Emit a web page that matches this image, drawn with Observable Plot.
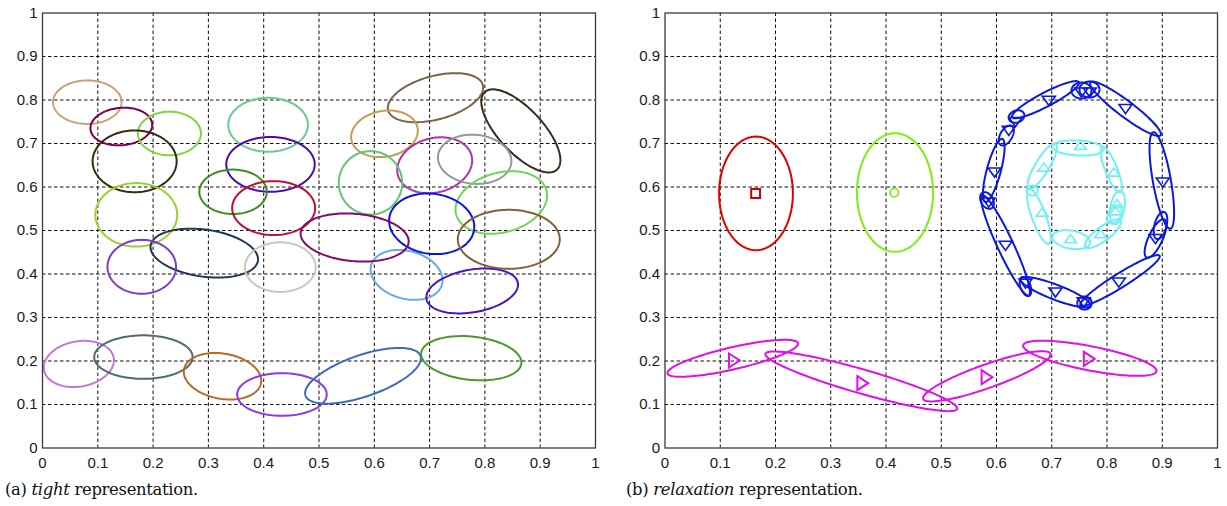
<!DOCTYPE html>
<html><head><meta charset="utf-8">
<script src="https://cdn.jsdelivr.net/npm/d3@7"></script>
<script src="https://cdn.jsdelivr.net/npm/@observablehq/plot@0.6"></script>
<style>
body{margin:0;background:#fff;}
#wrap{position:relative;width:1227px;height:506px;overflow:hidden;}
.panel{position:absolute;top:0;}
.cap{position:absolute;top:480px;font-family:"DejaVu Serif",serif;font-size:16.4px;color:#111;white-space:nowrap;letter-spacing:-0.3px;}
</style></head><body>
<div id="wrap">
<div id="a" class="panel" style="left:0"></div>
<div id="b" class="panel" style="left:622px"></div>
<div class="cap" style="left:5px">(a) <i>tight</i> representation.</div>
<div class="cap" style="left:626px">(b) <i>relaxation</i> representation.</div>
</div>
<script>
// ---- data ----
const tickValues = [0, 0.1, 0.2, 0.3, 0.4, 0.5, 0.6, 0.7, 0.8, 0.9, 1];
const gridValues = [0.1, 0.2, 0.3, 0.4, 0.5, 0.6, 0.7, 0.8, 0.9];

// tight ellipses: [cx, cy, semi-axis 1 (x units), semi-axis 2 (y units), tilt deg]
const tightEllipses = [
  [0.081, 0.795, 0.062, 0.050, 0],
  [0.1425, 0.739, 0.056, 0.043, 5],
  [0.2295, 0.723, 0.057, 0.050, 0],
  [0.1666, 0.659, 0.076, 0.071, 0],
  [0.1696, 0.536, 0.074, 0.073, 0],
  [0.408, 0.743, 0.072, 0.062, 0],
  [0.4123, 0.652, 0.080, 0.063, 0],
  [0.3446, 0.589, 0.061, 0.051, 0],
  [0.418, 0.5515, 0.075, 0.062, 0],
  [0.2925, 0.448, 0.098, 0.054, -8],
  [0.1795, 0.4165, 0.062, 0.062, 0],
  [0.430, 0.4158, 0.064, 0.057, 0],
  [0.0657, 0.1933, 0.064, 0.052, 10],
  [0.1825, 0.209, 0.089, 0.050, 0],
  [0.3256, 0.165, 0.0708, 0.052, -10],
  [0.433, 0.123, 0.081, 0.049, 0],
  [0.5796, 0.166, 0.110, 0.0476, 19],
  [0.7754, 0.2064, 0.091, 0.0497, -6],
  [0.6584, 0.398, 0.0664, 0.055, -15],
  [0.777, 0.361, 0.0839, 0.049, 10],
  [0.7107, 0.8053, 0.0886, 0.050, 15],
  [0.865, 0.729, 0.0958, 0.0506, -47],
  [0.6184, 0.7223, 0.0608, 0.0527, 10],
  [0.7092, 0.650, 0.0689, 0.0623, 15],
  [0.7815, 0.6637, 0.0666, 0.0563, -5],
  [0.5931, 0.6096, 0.0573, 0.0729, 0],
  [0.8297, 0.5644, 0.0845, 0.0687, 15],
  [0.7038, 0.5154, 0.0774, 0.069, -8],
  [0.8432, 0.4798, 0.0922, 0.0678, 0],
  [0.5645, 0.4839, 0.098, 0.0545, -5]
];
const tightColors = [
  "#c8a27a", "#800048", "#7fd63a", "#3b2a0e", "#9ad22a", "#66cc90", "#4a0ab4", "#3e8e26",
  "#c0102e", "#1f3a52", "#7a3ec8", "#c4ccb8", "#c078e0", "#4e6a72", "#b86a1e", "#8a3aea",
  "#3c6cc0", "#4a9a2a", "#6aa8e6", "#4a12c0", "#7a6448", "#3a2c1c", "#c49c54", "#b034a8",
  "#8a9c98", "#5cc870", "#72d458", "#0a12ee", "#806234", "#82086e"
];

// relaxation groups
const redEllipse = [[0.1647, 0.5853, 0.0668, 0.1306, 0]];
const redMarker = [[0.164, 0.585]];
const greenEllipse = [[0.4163, 0.5872, 0.0689, 0.1363, 0]];
const greenMarker = [[0.415, 0.587]];
const blueEllipses = [
  [0.6887, 0.8007, 0.0682, 0.0161, 27.7],
  [0.7538, 0.8218, 0.0181, 0.0184, 0],
  [0.7683, 0.8241, 0.0181, 0.0184, 0],
  [0.8335, 0.7798, 0.0796, 0.0184, -37],
  [0.8992, 0.615, 0.0887, 0.0207, -80],
  [0.8878, 0.4816, 0.038, 0.0161, 65],
  [0.8968, 0.5115, 0.0253, 0.0138, 75],
  [0.8235, 0.385, 0.0845, 0.0161, 32],
  [0.7593, 0.3333, 0.013, 0.015, 0],
  [0.7068, 0.3582, 0.0679, 0.0172, -21],
  [0.6163, 0.4655, 0.0999, 0.0184, -65],
  [0.6525, 0.3713, 0.0181, 0.0115, -70],
  [0.5828, 0.569, 0.0163, 0.0138, -60],
  [0.5951, 0.638, 0.0592, 0.0161, 75],
  [0.6177, 0.7184, 0.0199, 0.0138, 60],
  [0.6362, 0.762, 0.0145, 0.0138, 20]
];
const blueMarkers = [
  [0.6947, 0.7989], [0.7538, 0.818], [0.7689, 0.818], [0.8335, 0.7798], [0.901, 0.611],
  [0.8878, 0.481], [0.8214, 0.3811], [0.758, 0.3353], [0.7068, 0.3582], [0.6525, 0.3785],
  [0.6163, 0.4655], [0.586, 0.565], [0.5964, 0.634], [0.6223, 0.7299], [0.6344, 0.75]
];
const cyanEllipses = [
  [0.7475, 0.6897, 0.0467, 0.0172, -3],
  [0.8078, 0.6398, 0.044, 0.0138, -68],
  [0.819, 0.5529, 0.0308, 0.0161, 80],
  [0.8136, 0.5368, 0.0181, 0.0138, 60],
  [0.7928, 0.4924, 0.0398, 0.0161, 37],
  [0.7354, 0.4789, 0.0344, 0.0207, -10],
  [0.6766, 0.5326, 0.053, 0.0161, -70],
  [0.6827, 0.6476, 0.0474, 0.0161, 59],
  [0.6646, 0.592, 0.010, 0.0115, 0]
];
const cyanMarkers = [
  [0.752, 0.6954], [0.8123, 0.634], [0.8185, 0.5614], [0.8155, 0.545],
  [0.7882, 0.4924], [0.734, 0.481], [0.6827, 0.542], [0.6856, 0.6455]
];
const magentaEllipses = [
  [0.1227, 0.2062, 0.1213, 0.0253, 13],
  [0.3553, 0.1533, 0.1805, 0.0276, -16],
  [0.5825, 0.1648, 0.1222, 0.0271, 19.5],
  [0.7689, 0.2062, 0.1229, 0.0278, -11]
];
const magentaMarkers = [[0.1246, 0.2011], [0.357, 0.149], [0.5819, 0.1628], [0.767, 0.205]];

// ---- rendering ----
const H = 476, mT = 12.5, mB = 28.5;
const fmt = d => (d === 0 || d === 1) ? String(d) : d.toFixed(1);

function outlines(rows, colorOf, Wx, Wy, prefix) {
  const pts = [];
  rows.forEach(([cx, cy, a, b, ang], i) => {
    const Ma = a * Wx, Mi = b * Wy, A = ang * Math.PI / 180;
    const n = 140;
    for (let k = 0; k < n; k++) {
      const t = 2 * Math.PI * k / n;
      const U = Ma * Math.cos(t) * Math.cos(A) - Mi * Math.sin(t) * Math.sin(A);
      const V = Ma * Math.cos(t) * Math.sin(A) + Mi * Math.sin(t) * Math.cos(A);
      pts.push({id: prefix + i, x: cx + U / Wx, y: cy + V / Wy, color: colorOf(i)});
    }
  });
  return pts;
}

const triDown = {draw(c, size) { const r = Math.sqrt(size / Math.PI);
  c.moveTo(-r, -0.65 * r); c.lineTo(r, -0.65 * r); c.lineTo(0, 0.75 * r); c.closePath(); }};
const triUp = {draw(c, size) { const r = Math.sqrt(size / Math.PI);
  c.moveTo(-r, 0.65 * r); c.lineTo(r, 0.65 * r); c.lineTo(0, -0.7 * r); c.closePath(); }};
const triRight = {draw(c, size) { const r = Math.sqrt(size / Math.PI);
  c.moveTo(-0.7 * r, -r); c.lineTo(0.85 * r, 0); c.lineTo(-0.7 * r, r); c.closePath(); }};

function baseMarks() {
  return [
    Plot.ruleX(gridValues, {stroke: "#111", strokeWidth: 1, strokeDasharray: "3.5,2.5"}),
    Plot.ruleY(gridValues, {stroke: "#111", strokeWidth: 1, strokeDasharray: "3.5,2.5"})
  ];
}
function plotOpts(W, mL, mR, marks) {
  return {
    width: W, height: H, marginLeft: mL, marginRight: mR, marginTop: mT, marginBottom: mB,
    x: {domain: [0, 1], ticks: tickValues, tickFormat: fmt, tickSize: 0, tickPadding: 9, label: null},
    y: {domain: [0, 1], ticks: tickValues, tickFormat: fmt, tickSize: 0, tickPadding: 5, label: null},
    color: {type: "identity"},
    style: {fontFamily: "'Liberation Sans', Arial, sans-serif", fontSize: "15px", color: "#1a1a1a", background: "white", overflow: "visible"},
    marks
  };
}

// panel (a)
{
  const W = 622, mL = 42, mR = 27;
  const Wx = W - mL - mR, Wy = H - mT - mB;
  const pts = outlines(tightEllipses, i => tightColors[i], Wx, Wy, "t");
  const marks = [
    ...baseMarks(),
    Plot.line(pts, {x: "x", y: "y", z: "id", stroke: "color", strokeWidth: 2, curve: "linear-closed"}),
    Plot.frame({stroke: "#3a3a3a", strokeWidth: 1.3})
  ];
  document.getElementById("a").appendChild(Plot.plot(plotOpts(W, mL, mR, marks)));
}
// panel (b)
{
  const W = 605, mL = 42.5, mR = 10;
  const Wx = W - mL - mR, Wy = H - mT - mB;
  const pts = [
    ...outlines(redEllipse, () => "#e00000", Wx, Wy, "r"),
    ...outlines(greenEllipse, () => "#80ee10", Wx, Wy, "g"),
    ...outlines(magentaEllipses, () => "#e010e8", Wx, Wy, "m"),
    ...outlines(cyanEllipses, () => "#70f0f4", Wx, Wy, "c"),
    ...outlines(blueEllipses, () => "#0a18e0", Wx, Wy, "b")
  ];
  const P = {x: d => d[0], y: d => d[1], fill: "none"};
  const marks = [
    ...baseMarks(),
    Plot.line(pts, {x: "x", y: "y", z: "id", stroke: "color", strokeWidth: 2, curve: "linear-closed"}),
    Plot.dot(redMarker, {...P, symbol: "square", r: 5, stroke: "#d00000", strokeWidth: 2}),
    Plot.dot(greenMarker, {...P, symbol: "circle", r: 4.2, stroke: "#80ee10", strokeWidth: 1.8}),
    Plot.dot(magentaMarkers, {...P, symbol: triRight, r: 7, stroke: "#e010e8", strokeWidth: 2}),
    Plot.dot(cyanMarkers, {...P, symbol: triUp, r: 6, stroke: "#70f0f4", strokeWidth: 1.6}),
    Plot.dot(blueMarkers, {...P, symbol: triDown, r: 6.5, stroke: "#0a18e0", strokeWidth: 1.6}),
    Plot.frame({stroke: "#3a3a3a", strokeWidth: 1.3})
  ];
  document.getElementById("b").appendChild(Plot.plot(plotOpts(W, mL, mR, marks)));
}
</script>
</body></html>
